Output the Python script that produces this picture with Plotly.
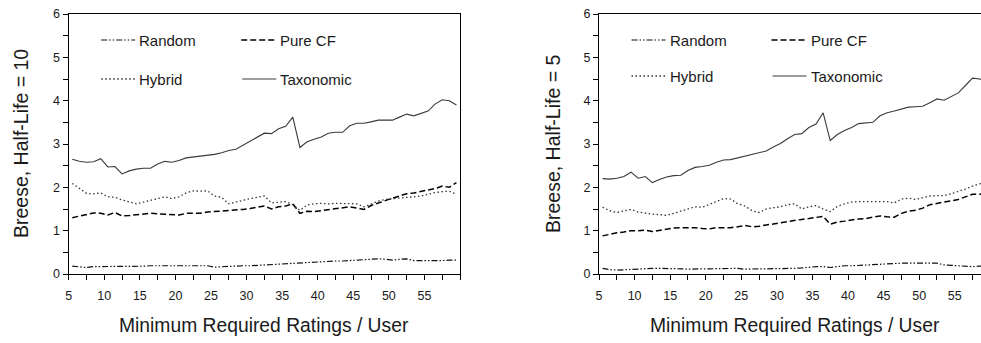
import plotly.graph_objects as go

# Minimum number of ratings a user must have (category axis, 5..59)
min_ratings = list(range(5, 60))

# Breese score, half-life = 10
hl10_random = [0.18, 0.16, 0.15, 0.17, 0.17, 0.17, 0.17, 0.18, 0.18, 0.18,
               0.18, 0.19, 0.19, 0.19, 0.19, 0.20, 0.20, 0.20, 0.20, 0.19,
               0.16, 0.17, 0.18, 0.19, 0.19, 0.19, 0.20, 0.21, 0.22, 0.23,
               0.24, 0.25, 0.25, 0.26, 0.27, 0.28, 0.29, 0.30, 0.30, 0.31,
               0.32, 0.33, 0.34, 0.35, 0.34, 0.32, 0.34, 0.35, 0.31, 0.31,
               0.30, 0.30, 0.31, 0.32, 0.32]
hl10_purecf = [1.30, 1.34, 1.37, 1.41, 1.40, 1.36, 1.42, 1.34, 1.35, 1.37,
               1.39, 1.40, 1.39, 1.38, 1.37, 1.36, 1.40, 1.40, 1.40, 1.43,
               1.44, 1.46, 1.47, 1.48, 1.49, 1.51, 1.54, 1.57, 1.50, 1.55,
               1.57, 1.62, 1.40, 1.45, 1.44, 1.46, 1.48, 1.51, 1.53, 1.55,
               1.52, 1.49, 1.58, 1.64, 1.70, 1.75, 1.80, 1.85, 1.87, 1.91,
               1.94, 1.97, 2.03, 2.00, 2.11]
hl10_hybrid = [2.09, 1.97, 1.86, 1.85, 1.87, 1.78, 1.77, 1.71, 1.67, 1.62,
               1.66, 1.70, 1.75, 1.78, 1.74, 1.78, 1.87, 1.92, 1.91, 1.92,
               1.80, 1.77, 1.62, 1.66, 1.71, 1.74, 1.77, 1.80, 1.64, 1.66,
               1.67, 1.60, 1.47, 1.59, 1.62, 1.63, 1.62, 1.63, 1.63, 1.63,
               1.62, 1.55, 1.62, 1.68, 1.72, 1.74, 1.75, 1.77, 1.78, 1.80,
               1.84, 1.88, 1.90, 1.91, 1.84]
hl10_taxonomic = [2.65, 2.60, 2.58, 2.59, 2.66, 2.47, 2.48, 2.31, 2.38, 2.42,
                  2.44, 2.44, 2.54, 2.60, 2.58, 2.62, 2.68, 2.70, 2.71, 2.73,
                  2.76, 2.80, 2.85, 2.88, 2.97, 3.06, 3.15, 3.25, 3.24, 3.35,
                  3.41, 3.62, 2.92, 3.05, 3.11, 3.16, 3.25, 3.27, 3.27, 3.42,
                  3.48, 3.48, 3.51, 3.55, 3.55, 3.55, 3.62, 3.69, 3.65, 3.70,
                  3.76, 3.92, 4.02, 4.00, 3.90]

# Breese score, half-life = 5
hl5_random = [0.13, 0.10, 0.09, 0.10, 0.11, 0.11, 0.12, 0.13, 0.13, 0.13,
              0.13, 0.12, 0.11, 0.12, 0.12, 0.12, 0.12, 0.13, 0.13, 0.13,
              0.11, 0.12, 0.12, 0.12, 0.12, 0.13, 0.13, 0.13, 0.14, 0.16,
              0.17, 0.17, 0.15, 0.17, 0.19, 0.19, 0.20, 0.20, 0.21, 0.22,
              0.23, 0.24, 0.25, 0.25, 0.25, 0.25, 0.26, 0.25, 0.21, 0.20,
              0.19, 0.17, 0.17, 0.18, 0.18]
hl5_purecf = [0.88, 0.92, 0.95, 0.97, 1.00, 1.00, 1.01, 0.98, 1.01, 1.04,
              1.06, 1.07, 1.07, 1.07, 1.05, 1.04, 1.07, 1.07, 1.07, 1.09,
              1.12, 1.09, 1.10, 1.13, 1.15, 1.18, 1.21, 1.24, 1.26, 1.28,
              1.30, 1.33, 1.15, 1.20, 1.22, 1.25, 1.27, 1.28, 1.31, 1.34,
              1.32, 1.31, 1.40, 1.45, 1.47, 1.52, 1.60, 1.63, 1.65, 1.68,
              1.72, 1.78, 1.84, 1.84, 1.86]
hl5_hybrid = [1.54, 1.46, 1.42, 1.46, 1.49, 1.43, 1.40, 1.38, 1.37, 1.35,
              1.40, 1.45, 1.50, 1.55, 1.54, 1.61, 1.68, 1.74, 1.73, 1.62,
              1.57, 1.46, 1.42, 1.50, 1.53, 1.55, 1.60, 1.62, 1.50, 1.55,
              1.58, 1.50, 1.44, 1.56, 1.62, 1.66, 1.67, 1.67, 1.67, 1.68,
              1.67, 1.64, 1.73, 1.75, 1.72, 1.76, 1.80, 1.81, 1.81, 1.85,
              1.90, 1.96, 2.03, 2.08, 2.10]
hl5_taxonomic = [2.20, 2.19, 2.21, 2.25, 2.35, 2.21, 2.25, 2.11, 2.18, 2.24,
                 2.27, 2.28, 2.39, 2.46, 2.48, 2.51, 2.58, 2.63, 2.64, 2.68,
                 2.71, 2.76, 2.79, 2.84, 2.93, 3.01, 3.12, 3.22, 3.24, 3.38,
                 3.46, 3.72, 3.08, 3.22, 3.31, 3.38, 3.47, 3.48, 3.50, 3.65,
                 3.72, 3.76, 3.80, 3.85, 3.86, 3.87, 3.95, 4.04, 4.01, 4.10,
                 4.18, 4.35, 4.52, 4.50, 4.45]

x_tick_labels = ["5", "10", "15", "20", "25", "30", "35", "40", "45", "50", "55"]
y_tick_labels = ["0", "1", "2", "3", "4", "5", "6"]
series_names = ["Random", "Pure CF", "Hybrid", "Taxonomic"]

W, H = 981, 343
FONT = "Arial, Liberation Sans, sans-serif"
TXT = "#1a1a1a"

styles = {
    "Random": dict(color="#111111", width=1.2, dash="6px,2px,1.5px,2px,1.5px,2px"),
    "Pure CF": dict(color="#000000", width=1.5, dash="6px,3px"),
    "Hybrid": dict(color="#333333", width=1.3, dash="1.5px,2.5px"),
    "Taxonomic": dict(color="#3a3a3a", width=1.1, dash="solid"),
}

CAT_W = 7.115  # pixel width of one rating category
panels = [
    dict(series=[hl10_random, hl10_purecf, hl10_hybrid, hl10_taxonomic],
         x0=68.7, x1=460.0, xr=(4.5, 59.5), ytitle="Breese, Half-Life = 10",
         ytitle_x=21, row2_y=79, mirror_y=True),
    dict(series=[hl5_random, hl5_purecf, hl5_hybrid, hl5_taxonomic],
         x0=599.0, x1=981.0, xr=(4.5, 4.5 + (981.0 - 599.0) / CAT_W),
         ytitle="Breese, Half-Life = 5", ytitle_x=553, row2_y=76, mirror_y=False),
]

y_top_px, y_bot_px = 14.0, 274.0
ydom = [(H - y_bot_px) / H, (H - y_top_px) / H]


def px(xp):
    return xp / W


def py(yp):
    return (H - yp) / H


fig = go.Figure()
shapes, annotations = [], []

for i, p in enumerate(panels):
    sfx = "" if i == 0 else str(i + 1)
    xa, ya = "x" + sfx, "y" + sfx
    for name, vals in zip(series_names, p["series"]):
        fig.add_trace(go.Scatter(
            x=min_ratings, y=vals, mode="lines", name=name, showlegend=False,
            line=styles[name], xaxis=xa, yaxis=ya))

    fig.layout["xaxis" + sfx] = dict(
        domain=[px(p["x0"]), px(p["x1"])], range=list(p["xr"]), anchor=ya,
        tickmode="array",
        tickvals=[4.5 + 5 * k for k in range(len(x_tick_labels))],
        ticktext=x_tick_labels, ticks="", showgrid=False, zeroline=False,
        showline=True, linecolor="#000000", linewidth=1.3, mirror=True,
        ticklabelstandoff=10, automargin=False,
        tickfont=dict(family=FONT, size=12.5, color=TXT),
        minor=dict(tick0=4.5, dtick=2.5, ticks="outside", ticklen=5,
                   tickcolor="#000000", tickwidth=1, showgrid=False),
        fixedrange=True)
    fig.layout["yaxis" + sfx] = dict(
        domain=ydom, range=[0, 6], anchor=xa, tickmode="array",
        tickvals=[0, 1, 2, 3, 4, 5, 6], ticktext=y_tick_labels,
        ticks="outside", ticklen=5, tickcolor="#000000", tickwidth=1,
        showgrid=False, zeroline=False, showline=True, linecolor="#000000",
        linewidth=1.3, mirror=p["mirror_y"], automargin=False,
        tickfont=dict(family=FONT, size=12.5, color=TXT),
        minor=dict(dtick=0.5, ticks="outside", ticklen=5,
                   tickcolor="#000000", tickwidth=1, showgrid=False),
        fixedrange=True)

    # axis titles
    annotations.append(dict(
        text=p["ytitle"], textangle=-90, x=px(p["ytitle_x"]),
        y=py((y_top_px + y_bot_px) / 2), xref="paper", yref="paper",
        xanchor="center", yanchor="middle",
        showarrow=False, font=dict(family=FONT, size=19.5, color=TXT)))
    full_w = 55 * CAT_W
    annotations.append(dict(
        text="Minimum Required Ratings / User",
        x=px(p["x0"] + full_w / 2), y=py(325), xref="paper", yref="paper",
        xanchor="center", yanchor="middle",
        showarrow=False, font=dict(family=FONT, size=19.3, color=TXT)))

    # in-plot key: two rows, two columns
    rows = [40, p["row2_y"]]
    slots = [("Random", 32.5, 66.5, rows[0]), ("Pure CF", 172.5, 207.5, rows[0]),
             ("Hybrid", 32.5, 66.5, rows[1]), ("Taxonomic", 173.5, 207.5, rows[1])]
    for name, a, b, yy in slots:
        st = styles[name]
        shapes.append(dict(type="line", xref="paper", yref="paper",
                           x0=px(p["x0"] + a), x1=px(p["x0"] + b),
                           y0=py(yy), y1=py(yy),
                           line=dict(color=st["color"], width=st["width"],
                                     dash=st["dash"])))
        annotations.append(dict(
            text=name, x=px(p["x0"] + b + 2), y=py(yy), xref="paper",
            yref="paper", xanchor="left", yanchor="middle", showarrow=False,
            font=dict(family=FONT, size=15, color=TXT)))

fig.update_layout(
    width=W, height=H,
    margin=dict(l=0, r=0, t=0, b=0, pad=0, autoexpand=False),
    paper_bgcolor="white", plot_bgcolor="white",
    shapes=shapes, annotations=annotations, showlegend=False)

fig.write_html("out.html", config=dict(displayModeBar=False))
